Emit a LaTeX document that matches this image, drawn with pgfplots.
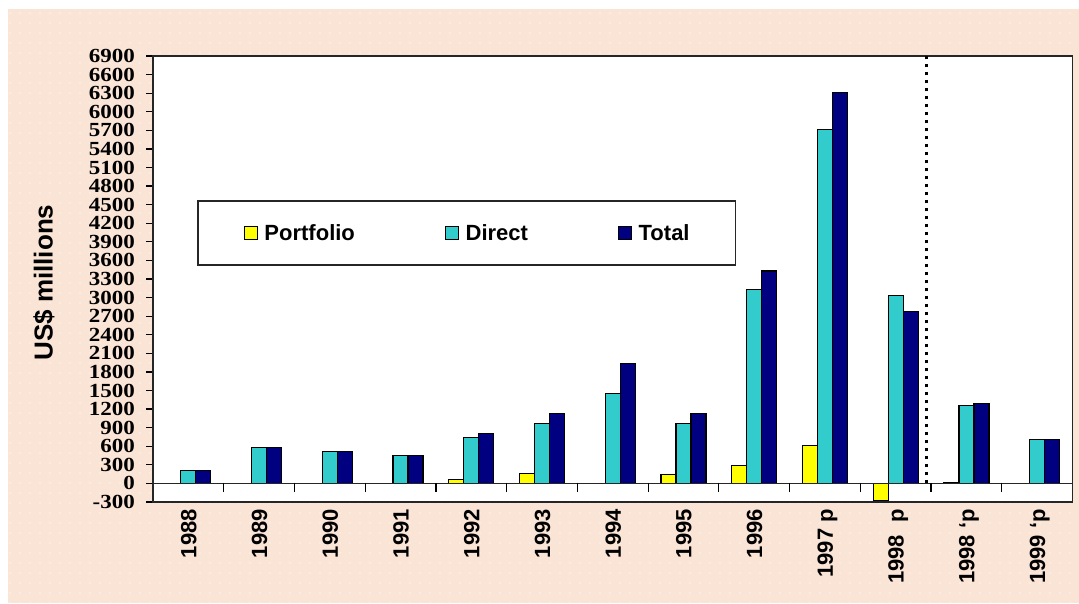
\documentclass[border=0pt]{standalone}
\usepackage{fontspec}
\setmainfont{Liberation Sans}
\newfontfamily\timesf{Liberation Serif}
\usepackage{pgfplots}
\pgfplotsset{compat=1.18}
\usetikzlibrary{patterns.meta}
\definecolor{bgpink}{RGB}{250,228,214}
\definecolor{portf}{RGB}{255,255,0}
\definecolor{direct}{RGB}{51,204,204}
\definecolor{total}{RGB}{0,0,128}
\begin{document}
\begin{tikzpicture}[x=1pt,y=1pt]
\fill[white] (0,0) rectangle (1079,603);
\fill[bgpink] (8,0) rectangle (1079,594);
\fill[pattern={Dots[distance=10pt,radius=0.8pt]}, pattern color=white, opacity=0.6] (8,0) rectangle (1079,594);
\begin{axis}[
  at={(153pt,101pt)}, anchor=south west,
  scale only axis, width=919.5pt, height=446pt,
  xmin=-0.5, xmax=12.5, ymin=-300, ymax=6900,
  axis background/.style={fill=white},
  axis line style={line width=1.5pt, black!85},
  ybar=0pt, bar width=15pt,
  xtick={0,...,12},
  xticklabels={1988,1989,1990,1991,1992,1993,1994,1995,1996,1997 p,1998\ \ p,1998 ‘p,1999 ‘p},
  xtick pos=bottom,
  xtick style={draw=none},
  xticklabel style={rotate=90, anchor=east, inner sep=0pt, yshift=0pt,
    font=\fontsize{22}{22}\selectfont\bfseries, text height=16pt, text depth=0pt},
  ytick={-300,0,...,6900},
  ytick pos=left, tick align=outside,
  major tick length=7pt,
  ytick style={line width=1.2pt, black},
  yticklabel style={font=\timesf\bfseries\fontsize{20}{20}\selectfont, xshift=-11pt, xscale=1.15, inner sep=0pt, anchor=east},
  /pgf/number format/1000 sep={},
  /pgf/number format/assume math mode=true,
  every axis y label/.style={at={(axis description cs:-0.1186,0.492)}, rotate=90, anchor=center,
    font=\fontsize{26}{26}\selectfont\bfseries},
  ylabel={US\$ millions},
  legend columns=3,
  legend image code/.code={\draw[#1, draw=black, line width=1.2pt] (0pt,-6.5pt) rectangle (13pt,6.5pt);},
  legend style={at={(axis description cs:0.0479,0.677)}, anchor=north west,
    draw=black!85, line width=1.5pt, fill=white,
    inner xsep=46pt, inner ysep=24pt,
    nodes={inner sep=0pt, font=\fontsize{22}{22}\selectfont\bfseries, text height=16pt, text depth=0pt, anchor=west},
    /tikz/every odd column/.append style={column sep=6.5pt},
    /tikz/every even column/.append style={column sep=90pt}},
]
\addplot[fill=portf, draw=black, line width=1.2pt] coordinates {
  (0,0) (1,0) (2,0) (3,0) (4,60) (5,160) (6,0) (7,150) (8,290) (9,610) (10,-270) (11,20) (12,0)};
\addplot[fill=direct, draw=black, line width=1.2pt] coordinates {
  (0,215) (1,580) (2,510) (3,450) (4,740) (5,970) (6,1450) (7,970) (8,3130) (9,5720) (10,3040) (11,1260) (12,705)};
\addplot[fill=total, draw=black, line width=1.2pt] coordinates {
  (0,215) (1,580) (2,510) (3,450) (4,810) (5,1130) (6,1940) (7,1130) (8,3430) (9,6310) (10,2780) (11,1290) (12,705)};
\legend{Portfolio,Direct,Total}
\draw[line width=1.5pt, black!85] (axis cs:-0.5,0) -- (axis cs:12.5,0);
\pgfplotsinvokeforeach{0.5,1.5,2.5,3.5,4.5,5.5,6.5,7.5,8.5,9.5,10.5,11.5}{
  \draw[line width=1.2pt] (axis cs:#1,0) -- ++(0pt,-9pt);
}
\draw[line width=3pt, dash pattern=on 3pt off 5pt] (axis cs:10.43,0) -- (axis cs:10.43,6900);
\end{axis}
\end{tikzpicture}
\end{document}
